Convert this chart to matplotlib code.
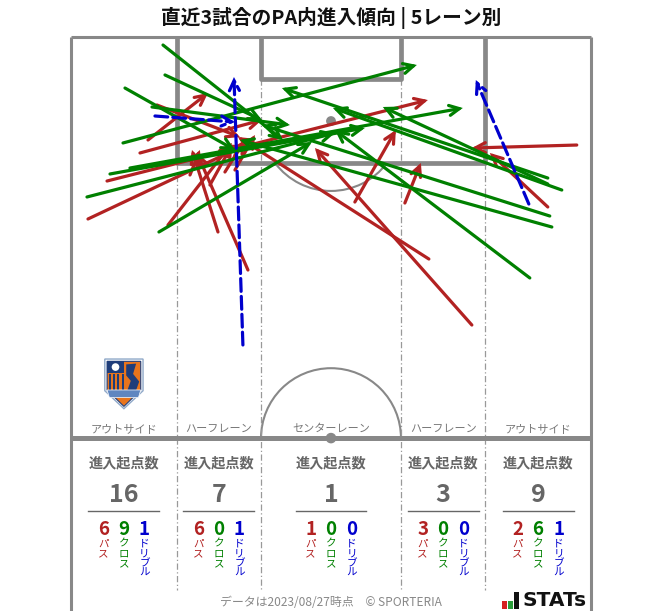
import matplotlib
matplotlib.use("Agg")
import matplotlib.pyplot as plt
from matplotlib.patches import Arc, Polygon, Rectangle, Circle
from matplotlib.lines import Line2D

plt.rcParams['font.family'] = ['Noto Sans CJK JP', 'DejaVu Sans']

# ---------------- data ----------------
title = "直近3試合のPA内進入傾向 | 5レーン別"
lanes = ["アウトサイド", "ハーフレーン", "センターレーン", "ハーフレーン", "アウトサイド"]
entry_total = [16, 7, 1, 3, 9]
pass_counts = [6, 6, 1, 3, 2]
cross_counts = [9, 0, 0, 0, 6]
dribble_counts = [1, 1, 0, 0, 1]

# arrow start/end in pitch metres (x across 0-68, y from goal line 0 -> halfway 52.5)
pass_x0 = [11.24, 10.07, 9.02, 4.71, 2.22, 12.68, 19.22, 23.14, 20.13, 15.56, 18.17, 21.44,
           37.12, 43.66, 52.42, 46.80, 66.14, 62.35]
pass_y0 = [8.90, 13.48, 15.18, 18.85, 23.82, 24.61, 25.52, 30.50, 17.67, 18.06, 19.37, 17.41,
           21.60, 21.73, 37.70, 29.06, 14.14, 22.25]
pass_x1 = [22.09, 17.91, 24.97, 46.67, 22.75, 21.05, 15.82, 16.47, 22.75, 16.86, 21.05, 24.05,
           42.48, 45.75, 31.90, 21.83, 52.42, 54.77]
pass_y1 = [13.09, 7.33, 10.86, 8.25, 14.14, 13.87, 14.79, 15.18, 13.48, 14.79, 14.14, 12.83,
           12.17, 16.49, 14.53, 13.09, 14.53, 15.18]

cross_x0 = [12.03, 12.29, 7.06, 6.80, 5.10, 2.09, 11.50, 7.71, 10.59,
            62.35, 62.35, 64.18, 62.61, 62.88, 60.00]
cross_y0 = [1.05, 4.97, 6.68, 13.87, 17.93, 20.94, 25.52, 17.15, 9.16,
            18.46, 19.24, 20.03, 23.43, 24.87, 31.54]
cross_x1 = [27.71, 24.97, 21.44, 45.23, 38.43, 34.51, 31.50, 51.24, 28.63,
            27.58, 40.78, 34.25, 24.97, 22.09, 34.51]
cross_y1 = [13.48, 10.86, 14.79, 3.66, 11.91, 12.57, 13.74, 9.29, 11.52,
            6.68, 9.16, 9.29, 11.52, 13.48, 12.17]

dribble_x0 = [10.98, 22.48, 59.87]
dribble_y0 = [10.34, 40.31, 21.86]
dribble_x1 = [21.44, 21.31, 52.94]
dribble_y1 = [11.13, 5.24, 5.63]

footer = "データは2023/08/27時点　© SPORTERIA"

# ---------------- figure ----------------
W, H = 663, 611
fig = plt.figure(figsize=(W / 100, H / 100), dpi=100)
fig.patch.set_facecolor("white")
ax = fig.add_axes([71 / W, 0, 520 / W, 574 / H])
ax.set_xlim(0, 68)
ax.set_ylim(75.13, 0)
ax.axis("off")

LC = "#888888"
PW, PL = 68.0, 52.5

def line(xs, ys, lw, color=LC, **kw):
    ax.add_line(Line2D(xs, ys, lw=lw, color=color, clip_on=False, solid_capstyle="butt", **kw))

# outer frame
line([0, 0], [0, 75.13], 2.2)
line([PW, PW], [0, 75.13], 2.2)
line([0, PW], [0, 0], 2.2)
# penalty area
pa_l, pa_r = 34 - 20.16, 34 + 20.16
ga_l, ga_r = 34 - 9.16, 34 + 9.16
line([pa_l, pa_l, pa_r, pa_r], [0, 16.5, 16.5, 0], 3.4)
line([ga_l, ga_l, ga_r, ga_r], [0, 5.5, 5.5, 0], 3.4)
# halfway line
line([0, PW], [PL, PL], 3.6)
# penalty spot / arc
ax.add_patch(Circle((34, 11), 0.55, color=LC, zorder=2))
ax.add_patch(Arc((34, 11), 18.3, 18.3, angle=0, theta1=37, theta2=143, color=LC, lw=1.5, zorder=1))
# centre circle (upper half) and spot
ax.add_patch(Arc((34, PL), 18.3, 18.3, angle=0, theta1=180, theta2=360, color=LC, lw=1.5, zorder=1))
ax.add_patch(Circle((34, PL), 0.6, color=LC, zorder=3, clip_on=False))

# lane dividers
for xl, ytop in [(pa_l, 16.5), (ga_l, 5.5), (ga_r, 5.5), (pa_r, 16.5)]:
    ax.add_line(Line2D([xl, xl], [ytop, 72.4], lw=0.9, color="#999999",
                       linestyle=(0, (5, 2, 1, 2)), zorder=1))

# lane labels
lane_edges = [0, pa_l, ga_l, ga_r, pa_r, PW]
lane_cx = [(lane_edges[i] + lane_edges[i + 1]) / 2 for i in range(5)]
for cx, name in zip(lane_cx, lanes):
    ax.text(cx, 51.3, name, ha="center", va="center", fontsize=8, color="#777777")

# ---------------- arrows ----------------
def arrow(x0, y0, x1, y1, color, ls="-", z=3):
    ax.annotate("", xy=(x1, y1), xytext=(x0, y0),
                arrowprops=dict(arrowstyle="->", color=color, lw=2.3, linestyle=ls,
                                shrinkA=0, shrinkB=0, mutation_scale=18,
                                capstyle="round", joinstyle="miter"),
                zorder=z)

RED, GREEN, BLUE = "#b22222", "#008000", "#0000cd"
for i in range(len(pass_x0)):
    arrow(pass_x0[i], pass_y0[i], pass_x1[i], pass_y1[i], RED, z=3)
for i in range(len(cross_x0)):
    arrow(cross_x0[i], cross_y0[i], cross_x1[i], cross_y1[i], GREEN, z=4)
for i in range(len(dribble_x0)):
    arrow(dribble_x0[i], dribble_y0[i], dribble_x1[i], dribble_y1[i], BLUE, ls=(0, (4, 1.6)), z=5)

# ---------------- crest (simplified) ----------------
cx0, cy0 = lane_cx[0], 45.3
w2, h2 = 2.5, 3.15
navy, orange = "#1f3d7a", "#e8741c"
outer = [(cx0 - w2, cy0 - h2), (cx0 + w2, cy0 - h2), (cx0 + w2, cy0 + 1.0),
         (cx0, cy0 + h2 + 0.2), (cx0 - w2, cy0 + 1.0)]
ax.add_patch(Polygon(outer, closed=True, fc="white", ec="#8fa8c8", lw=1.0, zorder=6))
w3, h3 = w2 - 0.3, h2 - 0.3
inner = [(cx0 - w3, cy0 - h3), (cx0 + w3, cy0 - h3), (cx0 + w3, cy0 + 0.9),
         (cx0, cy0 + h3 + 0.2), (cx0 - w3, cy0 + 0.9)]
ax.add_patch(Polygon(inner, closed=True, fc=orange, ec=navy, lw=0.8, zorder=6))
ax.add_patch(Rectangle((cx0 - w3, cy0 - h3), w3, 1.5, fc=navy, ec="none", zorder=7))
ax.add_patch(Circle((cx0 - w3 / 2, cy0 - h3 + 0.75), 0.5, fc="white", ec="none", zorder=8))
for k in range(4):
    xs = cx0 - w3 + 0.25 + k * 0.55
    ax.add_patch(Rectangle((xs, cy0 - h3 + 1.6), 0.25, 2.6, fc=navy, ec="none", zorder=7))
squ = [(cx0 + 0.3, cy0 - h3 + 0.4), (cx0 + 1.6, cy0 - h3 + 0.3), (cx0 + 1.2, cy0 - 1.2),
       (cx0 + 2.0, cy0 - 0.2), (cx0 + 1.5, cy0 + 1.2), (cx0 + 0.4, cy0 + 1.1),
       (cx0 + 0.9, cy0 - 0.3), (cx0 + 0.3, cy0 - 1.0)]
ax.add_patch(Polygon(squ, closed=True, fc=navy, ec="none", zorder=7))
band = [(cx0 - w3, cy0 + 0.9), (cx0 + w3, cy0 + 0.9), (cx0 + w3 - 0.3, cy0 + 1.9),
        (cx0 - w3 + 0.3, cy0 + 1.9)]
ax.add_patch(Polygon(band, closed=True, fc="#5f86c0", ec="white", lw=0.5, zorder=8))

# ---------------- bottom panel ----------------
GRAY = "#666666"
off = 2.68
for i, cx in enumerate(lane_cx):
    ax.text(cx, 55.8, "進入起点数", ha="center", va="center", fontsize=10.2,
            fontweight="bold", color=GRAY)
    ax.text(cx, 59.9, str(entry_total[i]), ha="center", va="center", fontsize=18,
            fontweight="bold", color=GRAY)
    ax.add_line(Line2D([cx - 4.64, cx + 4.64], [62.0, 62.0], lw=1.0, color=GRAY))
    for j, (val, lab, col) in enumerate([(pass_counts[i], "パス", RED),
                                          (cross_counts[i], "クロス", GREEN),
                                          (dribble_counts[i], "ドリブル", BLUE)]):
        xx = cx + (j - 1) * off
        ax.text(xx, 64.4, str(val), ha="center", va="center", fontsize=13.5,
                fontweight="bold", color=col)
        ax.text(xx, 65.7, "\n".join(lab), ha="center", va="top", fontsize=7.6,
                color=col, linespacing=0.95)

# title & footer
fig.text(331 / W, 1 - 18 / H, title, ha="center", va="center", fontsize=14.2,
         fontweight="bold", color="#111111")
fig.text(331 / W, 1 - 603 / H, footer, ha="center", va="center", fontsize=8.6,
         color="#888888")

# STATS logo
for bx, bh, bc in [(502, 8, "#d62020"), (508, 8, "#2a9d3a"), (514, 17, "#111111")]:
    fig.patches.append(Rectangle((bx / W, (H - 609) / H), 4.5 / W, bh / H, fc=bc, ec="none",
                                 transform=fig.transFigure, figure=fig))
fig.text(523 / W, 1 - 600 / H, "STATs", ha="left", va="center", fontsize=14.5,
         fontweight="bold", color="#111111", family=["DejaVu Sans"])

fig.savefig("out.png", dpi=100, facecolor="white")
